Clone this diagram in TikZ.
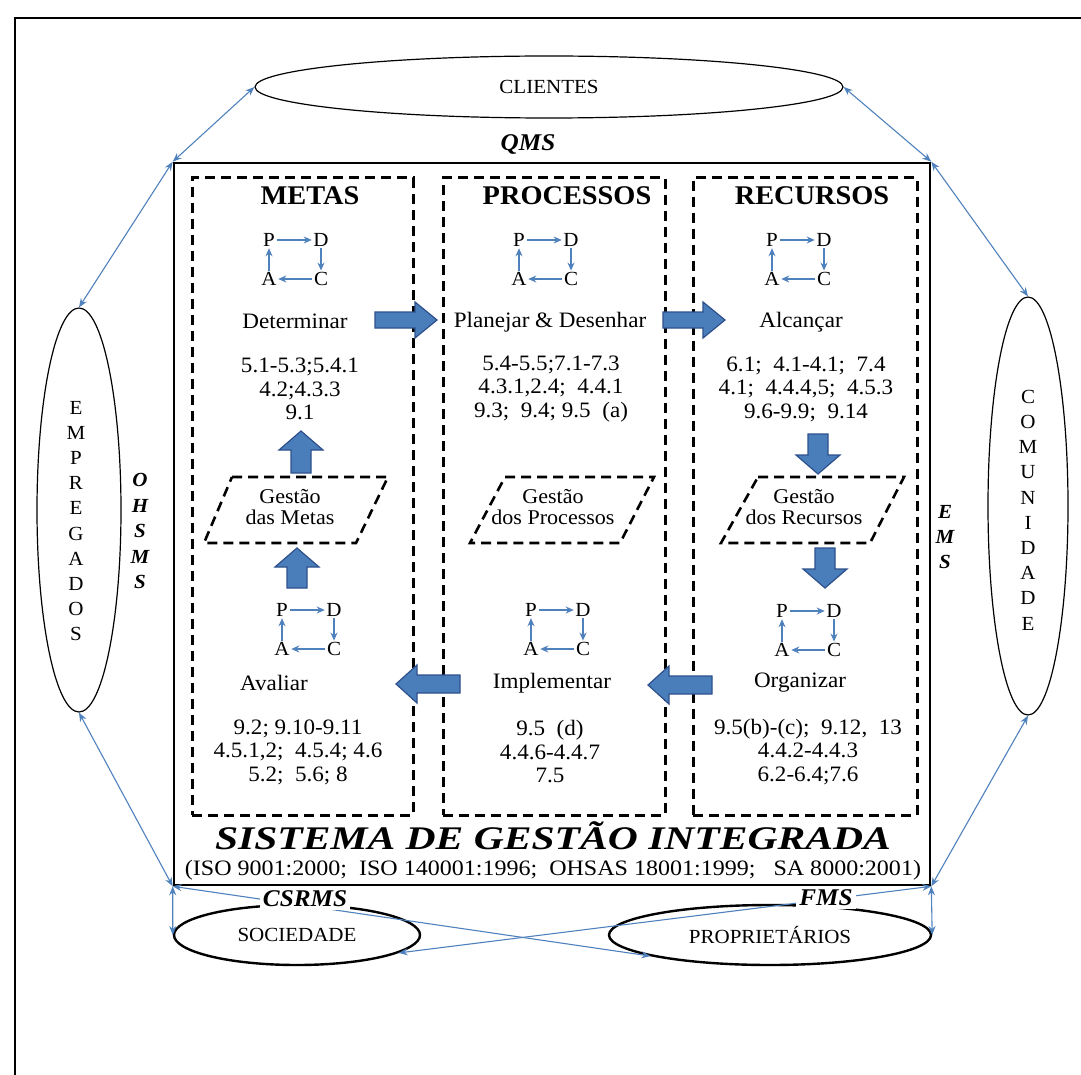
\documentclass[tikz,border=0pt]{standalone}
\usepackage{graphicx}
\usepackage{fontspec}
\setmainfont{Liberation Serif}[FakeStretch=1.05]
\usetikzlibrary{arrows.meta,shapes.geometric,calc}
\definecolor{linkblue}{RGB}{79,129,189}
\definecolor{arrowfill}{RGB}{74,126,187}
\definecolor{arrowedge}{RGB}{45,80,140}
\newcommand{\fs}[1]{\fontsize{#1}{#1}\selectfont}
\begin{document}
\begin{tikzpicture}[x=1pt,y=-1pt,
  every node/.style={inner sep=0pt, font=\fontsize{22}{23.5}\selectfont},
  link/.style={draw=linkblue, line width=1.1pt,
    {Stealth[length=9pt,width=7pt]}-{Stealth[length=9pt,width=7pt]}},
  stake/.style={draw, ellipse, line width=1.2pt, inner sep=0pt},
  stakebold/.style={draw, ellipse, line width=2.4pt, inner sep=0pt},
  column/.style={draw, line width=3pt, dash pattern=on 10pt off 6pt},
  gestao/.style={draw, line width=2.6pt, dash pattern=on 10pt off 6pt},
  title/.style={font=\bfseries\fs{27}},
  acro/.style={font=\bfseries\itshape\fs{24}},
  refs/.style={align=center, font=\fontsize{22}{23.5}\selectfont},
  letter/.style={inner sep=1.5pt, font=\fs{20}},
  cyc/.style={draw=linkblue, line width=1.2pt, -{Stealth[length=8pt,width=7pt]}},
  bigarrow/.style={fill=arrowfill, draw=arrowedge, line width=1.2pt},
  pics/pdca/.style={code={
    \node[letter] (-P) at (0,0) {P};
    \node[letter] (-D) at (52,0) {D};
    \node[letter] (-C) at (52,39) {C};
    \node[letter] (-A) at (0,39) {A};
    \draw[cyc] (-P) -- (-D);
    \draw[cyc] (-D) -- (-C);
    \draw[cyc] (-C) -- (-A);
    \draw[cyc] (-A) -- (-P);
  }},
  pics/blockarrow/.style n args={4}{code={
    \path[bigarrow] (-#1,-#2) -- ({#1-#4},-#2) -- ({#1-#4},-#3) -- (#1,0)
      -- ({#1-#4},#3) -- ({#1-#4},#2) -- (-#1,#2) -- cycle;
  }}
]
\useasboundingbox (0,0) rectangle (1081,1075);

% outer frame
\draw[line width=1.5pt] (15,1080) -- (15,18) -- (1090,18);

% stakeholders
\node[stake, minimum width=588pt, minimum height=62pt] (cli) at (549,87) {};
\node[font=\fs{20}] (clit) at (cli.center) {CLIENTES};
\node[stake, minimum width=84pt, minimum height=404pt] (emp) at (79,510) {};
\node[stake, minimum width=80pt, minimum height=418pt] (com) at (1028,506) {};
\node[stakebold, minimum width=246pt, minimum height=60pt] (soc) at (297,935) {};
\node[stakebold, minimum width=322pt, minimum height=60pt] (prop) at (770,935) {};
\node[font=\fs{20}] (soct) at (soc.center) {SOCIEDADE};
\node[font=\fs{20}] (propt) at (prop.center) {PROPRIETÁRIOS};
\node[align=center, font=\fontsize{20}{25.2}\selectfont] (empt) at (76,521)
  {E\\M\\P\\R\\E\\G\\A\\D\\O\\S};
\node[align=center, font=\fontsize{20}{25.2}\selectfont] (comt) at (1028,510)
  {C\\O\\M\\U\\N\\I\\D\\A\\D\\E};

% integrated system
\node[draw, line width=2.6pt, minimum width=756pt, minimum height=722pt] (sys) at (552,524) {};
\node[column, minimum width=221pt, minimum height=637pt] (metas) at (302.5,496.5) {};
\node[column, minimum width=222pt, minimum height=637pt] (proc) at (554,496.5) {};
\node[column, minimum width=224pt, minimum height=637pt] (recu) at (805,496.5) {};

\node[title] (tm) at (310,196) {METAS};
\node[title] (tp) at (567,196) {PROCESSOS};
\node[title] (tr) at (812,196) {RECURSOS};

% cycles
\pic (m1) at (269,240) {pdca};
\pic (p1) at (519,240) {pdca};
\pic (r1) at (772,240) {pdca};
\pic (m2) at (282,610) {pdca};
\pic (p2) at (531,610) {pdca};
\pic (r2) at (782,611) {pdca};

% stages
\node (det) at (295,321) {Determinar};
\node (pla) at (550,322) {Planejar \& Desenhar};
\node (alc) at (801,322) {Alcançar};
\node (ava) at (274,683) {Avaliar};
\node (imp) at (552,683) {Implementar};
\node (org) at (800,683) {Organizar};

\node[refs] (rm1) at (300,389) {5.1-5.3;5.4.1\\4.2;4.3.3\\9.1};
\node[refs] (rp1) at (551,389) {5.4-5.5;7.1-7.3\\4.3.1,2.4; \ 4.4.1\\9.3; \ 9.4; 9.5 \ (a)};
\node[refs] (rr1) at (806,389) {6.1; \ 4.1-4.1; \ 7.4\\4.1; \ 4.4.4,5; \ 4.5.3\\9.6-9.9; \ 9.14};
\node[refs] (rm2) at (298,752) {9.2; 9.10-9.11\\4.5.1,2; \ 4.5.4; 4.6\\5.2; \ 5.6; 8};
\node[refs] (rp2) at (550,752) {9.5 \ (d)\\4.4.6-4.4.7\\7.5};
\node[refs] (rr2) at (808,752) {9.5(b)-(c); \ 9.12, \ 13\\4.4.2-4.4.3\\6.2-6.4;7.6};

% management blocks
\draw[gestao] (232,477) -- (388,477) -- (356,543) -- (204,543) -- cycle;
\draw[gestao] (505,477) -- (654,477) -- (620,543) -- (470,543) -- cycle;
\draw[gestao] (758,477) -- (904,477) -- (870,543) -- (721,543) -- cycle;
\node[refs, font=\fontsize{21}{21}\selectfont] (gm) at (290,507) {Gestão\\das Metas};
\node[refs, font=\fontsize{21}{21}\selectfont] (gp) at (553,507) {Gestão\\dos Processos};
\node[refs, font=\fontsize{21}{21}\selectfont] (gr) at (804,507) {Gestão\\dos Recursos};

% flow arrows
\pic at (406,320) {blockarrow={31}{8}{18}{22}};
\pic at (694,320) {blockarrow={31}{8}{18}{22}};
\pic[rotate=180] at (428,684) {blockarrow={32}{9}{19}{21}};
\pic[rotate=180] at (680,685) {blockarrow={32}{9}{19}{21}};
\pic[rotate=90] at (301,452) {blockarrow={21}{10}{22}{19}};
\pic[rotate=90] at (297,568) {blockarrow={20}{10}{22}{19}};
\pic[rotate=-90] at (818,454) {blockarrow={20}{10}{22}{19}};
\pic[rotate=-90] at (825,568) {blockarrow={20}{10}{22}{19}};

\node[anchor=base, font=\bfseries\itshape\fontsize{33}{33}\selectfont] (sgi) at (553,849)
  {\scalebox{1.2}[1]{SISTEMA DE GESTÃO INTEGRADA}};
\node[anchor=base, font=\fs{22}] (iso) at (553,875)
  {\scalebox{1.04}[1]{(ISO 9001:2000; \ ISO 140001:1996; \ OHSAS 18001:1999; \ \ SA 8000:2001)}};

% links between the system and its stakeholders
\draw[link] (cli.west) -- (sys.north west);
\draw[link] (sys.north west) -- (emp.north);
\draw[link] (emp.south) -- (sys.south west);
\draw[link] (cli.east) -- (sys.north east);
\draw[link] (sys.north east) -- (com.north);
\draw[link] (com.south) -- (sys.south east);
\draw[link] (sys.south west) -- (soc.west);
\draw[link] (sys.south east) -- (prop.east);
\draw[link] (sys.south west) -- (prop.190);
\draw[link] (sys.south east) -- (soc.-10);

\node[acro] (qms) at (528,145) {QMS};
\node[acro, fill=white, inner sep=3pt] (csr) at (305,899) {CSRMS};
\node[acro, fill=white, inner sep=3pt] (fms) at (826,898) {FMS};
\node[align=center, font=\bfseries\itshape\fontsize{20}{25.5}\selectfont] (ohs) at (140,531) {O\\H\\S\\M\\S};
\node[align=center, font=\bfseries\itshape\fontsize{20}{25}\selectfont] (ems) at (945,537) {E\\M\\S};
\end{tikzpicture}
\end{document}
